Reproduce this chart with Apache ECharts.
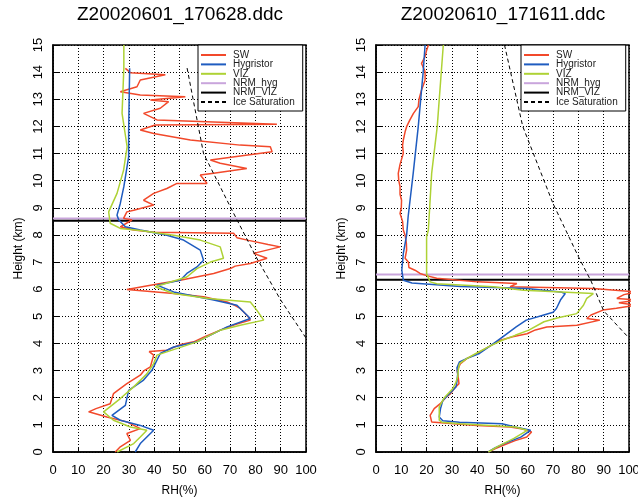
<!DOCTYPE html>
<html>
<head>
<meta charset="utf-8">
<script src="https://cdn.jsdelivr.net/npm/echarts@6/dist/echarts.min.js"></script>
<style>
  html, body { margin: 0; padding: 0; background: #fff; }
  #chart { width: 638px; height: 500px; }
</style>
</head>
<body>
<div id="chart"></div>
<script>
// 数据 [RH(%), Height(km)]
var titles = ["Z20020601_170628.ddc", "Z20020610_171611.ddc"];
var names = ["SW", "Hygristor", "VIZ", "NRM_hyg", "NRM_VIZ", "Ice Saturation"];
var colors = ["#f2492b", "#1f5cc0", "#aed235", "#c9a5dc", "#000000", "#000000"];

var leftSW = [[24.6,0],[26.6,0.19],[30.6,0.43],[29.2,0.68],[34.5,0.86],[29.2,1.11],[21.3,1.29],[14.1,1.48],[17,1.6],
  [22.6,1.78],[23.9,2.15],[26,2.3],[29.2,2.52],[34.5,2.83],[36,3.0],[38.5,3.14],[39.8,3.57],[38,3.7],[45,3.75],
  [50,3.95],[55.6,4.06],[60,4.25],[66.1,4.49],[72,4.7],[78,4.86],[77,5.0],[74,5.29],[72,5.4],[68.8,5.53],[59.5,5.72],
  [47.7,5.84],[29.2,5.99],[42.4,6.21],[50.3,6.33],[63.5,6.58],[70.1,6.76],[72,6.85],[78,6.95],[84.6,7.14],[79.3,7.32],
  [89.8,7.56],[85,7.65],[77.3,7.8],[72.7,7.9],[71.4,8.06],[40,8.1],[31.9,8.18],[26.6,8.3],[31.2,8.55],[27.9,8.61],
  [29.2,8.85],[31.9,8.91],[39.8,9.1],[35.8,9.28],[39.8,9.53],[45,9.71],[49,9.9],[60.9,9.9],[58.2,10.21],[63.5,10.27],
  [76.6,10.45],[66.1,10.64],[62.2,10.76],[86.6,11.07],[85.9,11.25],[74,11.31],[54.3,11.5],[39.8,11.74],[34.5,11.87],
  [40.4,12.05],[88.5,12.08],[41.1,12.24],[35.8,12.48],[42.4,12.67],[45.7,12.91],[38.5,12.97],[52.3,13.09],[34.5,13.16],
  [26.6,13.28],[33.2,13.46],[34.5,13.71],[44.4,13.9],[30.6,13.98],[28.6,14.14]];
var leftHyg = [[32.5,0],[34.5,0.31],[37.1,0.55],[39.8,0.8],[34.5,0.98],[26.6,1.17],[23.3,1.35],[28.6,1.72],[29.9,2.27],
  [35.8,2.65],[39.1,3.01],[42.4,3.63],[47.7,3.87],[56.9,4.06],[68.8,4.61],[78,4.92],[72.7,5.41],[63.5,5.6],[47.7,5.9],
  [41.1,6.15],[50.3,6.33],[52.9,6.58],[56.9,6.82],[59.5,7.07],[58.2,7.44],[51.6,7.81],[45,7.99],[34.5,8.18],[28.6,8.3],
  [26,8.55],[25.3,8.73],[26.6,9.16],[28,9.78],[29.9,10.88],[29.9,11.87],[30.3,14.14]];
var leftVIZ = [[25.3,0],[31.9,0.31],[34.5,0.55],[37.1,0.8],[30.6,0.92],[23.9,1.17],[20,1.48],[26.6,1.97],[31.9,2.4],
  [37.1,2.88],[39.8,3.26],[41.1,3.57],[56.9,4.06],[66.1,4.49],[74,4.67],[83.3,4.86],[80.6,5.22],[78,5.53],[61.4,5.66],
  [47.7,5.84],[40.4,6.09],[52.9,6.45],[56.9,6.76],[62.2,7.0],[67.4,7.14],[66.1,7.56],[58.2,7.81],[47.7,7.99],[34.5,8.16],
  [26.6,8.24],[22.6,8.43],[22,8.85],[25.3,9.53],[27.9,10.39],[29.3,11.25],[27.3,12.48],[28,14.14],[28,15]];
var leftNrmHyg = [[0,8.61],[100,8.61]];
var leftNrmViz = [[0,8.52],[100,8.52]];
var leftIce = [[53,14.15],[59.5,11],[70,9.05],[80.5,7.15],[90,5.6],[100,4.2]];

var rightSW = [[44.4,0],[47,0.12],[50.3,0.25],[55,0.42],[59.6,0.55],[61.5,0.74],[58,0.85],[53,0.92],[40,0.98],[33.2,1.02],
  [22,1.11],[21.4,1.35],[23,1.6],[25.4,1.78],[27.5,2.0],[29.5,2.15],[31,2.35],[32.8,2.52],[32.5,2.75],[32.1,3.01],
  [33.4,3.26],[36,3.45],[40,3.63],[45,3.9],[49.2,4.12],[54,4.25],[59.7,4.36],[63,4.5],[67.5,4.61],[79.4,4.67],[88.5,4.86],
  [83.3,4.92],[85,5.05],[89.7,5.23],[95,5.3],[103,5.41],[96,5.5],[103,5.6],[95.2,5.66],[98,5.8],[103,5.9],[85.9,6.03],
  [53,6.09],[55.7,6.21],[40,6.27],[24,6.4],[20,6.5],[17.4,6.58],[15.4,6.7],[13,6.8],[12.8,7.0],[11.5,7.14],[12.1,7.44],
  [12,7.7],[11.5,7.99],[10.8,8.18],[10.5,8.5],[9.5,8.79],[10,9.0],[10.1,9.28],[9.5,9.5],[9.5,9.78],[9,10.0],[8.8,10.27],
  [9.5,10.6],[10.8,11.01],[10.5,11.3],[10.8,11.5],[11.5,11.8],[12.1,11.99],[13.4,12.24],[14.8,12.48],[16.7,12.73],
  [17,13.0],[18,13.34],[19.4,13.7],[19.4,14.02],[18,14.32],[19.4,14.57],[20,14.8],[20.7,15.0]];
var rightHyg = [[44.4,0],[47,0.15],[50.6,0.31],[57.2,0.55],[61.1,0.8],[55,0.92],[49.8,1.04],[33,1.1],[26.4,1.15],[25,1.29],
  [25.5,1.6],[26.4,1.9],[29,2.15],[31.6,2.4],[32,2.6],[32.3,2.88],[32,3.1],[33,3.32],[36,3.45],[40.9,3.63],[45,3.9],
  [50.1,4.24],[55.4,4.61],[59.4,4.86],[66,5.04],[70,5.15],[71.3,5.29],[72.9,5.6],[74.8,5.84],[72.9,5.9],[59.7,6.03],
  [33.4,6.1],[14.2,6.23],[10.8,6.33],[10.2,6.7],[10.8,7.32],[12.1,7.99],[12.7,8.67],[14.7,10.27],[16.7,11.99],
  [18.7,14.07],[19.4,15.0]];
var rightVIZ = [[44.4,0],[48,0.2],[54.5,0.5],[59.8,0.8],[55,0.92],[45,0.98],[33.2,1.04],[26,1.1],[25,1.17],[25,1.66],
  [27,2.0],[30.3,2.33],[31.5,2.55],[32.3,2.76],[32.5,3.0],[33,3.26],[36,3.45],[39.5,3.63],[45,3.9],[49.9,4.12],[55,4.3],
  [60.4,4.49],[66.4,4.8],[72,4.95],[79.3,5.1],[82,5.41],[83.3,5.66],[85.9,5.84],[58.3,5.96],[46.4,6.09],[24,6.2],
  [21.4,6.27],[20,6.58],[20,7.93],[20.7,8.18],[22,10.27],[24.2,11.99],[26.6,15.0]];
var rightNrmHyg = [[0,6.54],[100,6.54]];
var rightNrmViz = [[0,6.35],[100,6.35]];
var rightIce = [[50.8,15],[58,12],[70,9.15],[80,7.2],[85,6.3],[90,5.2],[100,4.2]];

var xTicks = { min: 0, max: 100, interval: 10 };
var yTicks = { min: 0, max: 15, interval: 1 };

var panels = [
  { left: 53, sets: [leftSW, leftHyg, leftVIZ, leftNrmHyg, leftNrmViz, leftIce] },
  { left: 376, sets: [rightSW, rightHyg, rightVIZ, rightNrmHyg, rightNrmViz, rightIce] }
];

var chart = echarts.init(document.getElementById("chart"));
var font = "Liberation Sans, Arial, Helvetica, sans-serif";
var grids = [], xAxes = [], yAxes = [], series = [], legends = [], titleList = [];

for (var p = 0; p < panels.length; p++) {
  var pl = panels[p];
  grids.push({ left: pl.left, width: 253, top: 45, height: 407, show: true,
    outerBoundsMode: "none", containLabel: false,
    backgroundColor: "#fff", borderColor: "#000", borderWidth: 1.5 });
  titleList.push({ text: titles[p], left: pl.left + 122, top: 0, textAlign: "center",
    textStyle: { fontFamily: font, fontSize: 19, fontWeight: "normal", color: "#000" } });
  xAxes.push({ type: "value", gridIndex: p, min: xTicks.min, max: xTicks.max, interval: xTicks.interval,
    name: "RH(%)", nameLocation: "middle", nameGap: 33,
    nameTextStyle: { fontFamily: font, fontSize: 12, color: "#000" },
    axisLine: { lineStyle: { color: "#000", width: 1.5 } },
    axisTick: { inside: true, length: 5, lineStyle: { color: "#000" } },
    axisLabel: { fontFamily: font, fontSize: 13, color: "#000", margin: 12 },
    splitLine: { show: true, lineStyle: { color: "#000", type: [1, 2], width: 1 } } });
  yAxes.push({ type: "value", gridIndex: p, min: yTicks.min, max: yTicks.max, interval: yTicks.interval,
    name: "Height (km)", nameLocation: "middle", nameGap: 28,
    nameTextStyle: { fontFamily: font, fontSize: 12, color: "#000" },
    axisLine: { lineStyle: { color: "#000", width: 1.5 } },
    axisTick: { inside: true, length: 7, lineStyle: { color: "#000" } },
    axisLabel: { fontFamily: font, fontSize: 13, color: "#000", rotate: 90, margin: 8 },
    splitLine: { show: true, lineStyle: { color: "#000", type: [1, 2], width: 1 } } });
  legends.push({ data: names, orient: "vertical", left: pl.left + 145, top: 45, width: 108,
    backgroundColor: "#fff", borderColor: "#000", borderWidth: 1, borderRadius: 0,
    padding: [5, 8, 4, 2], itemWidth: 25, itemHeight: 8, itemGap: -0.6,
    itemStyle: { opacity: 0 },
    textStyle: { fontFamily: font, fontSize: 10, lineHeight: 8, color: "#222", padding: [0, 0, 0, 2] } });
  for (var s = 0; s < names.length; s++) {
    var lw = (s === 3 || s === 4) ? 2 : (s === 5 ? 1 : 1.5);
    series.push({ name: names[s], type: "line", xAxisIndex: p, yAxisIndex: p,
      data: pl.sets[s], symbol: "none", animation: false, clip: true,
      z: s === 3 || s === 4 ? 1 : 2,
      lineStyle: { color: colors[s], width: lw, type: s === 5 ? [4, 3] : "solid" },
      itemStyle: { color: colors[s] } });
  }
}

chart.setOption({
  animation: false,
  title: titleList,
  legend: legends,
  grid: grids,
  xAxis: xAxes,
  yAxis: yAxes,
  series: series
});
</script>
</body>
</html>
